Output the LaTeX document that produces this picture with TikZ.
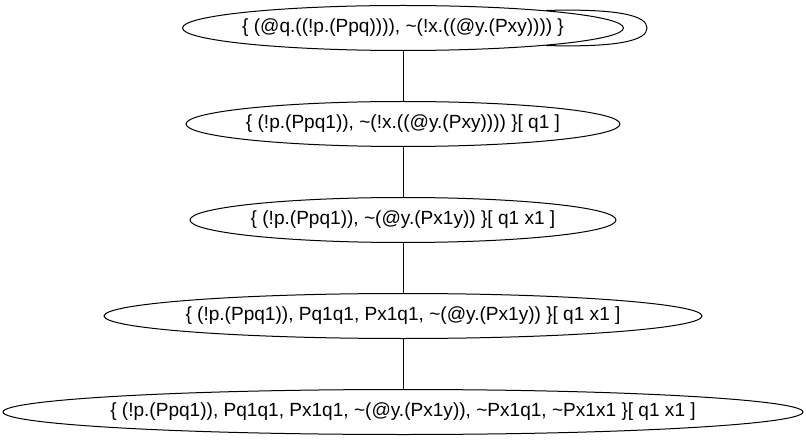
\documentclass[tikz,border=0pt]{standalone}
\usepackage{fontspec}
\setmainfont{Liberation Sans}
\usetikzlibrary{positioning,shapes.geometric}
\tikzset{every node/.style={align=center}}

\begin{document}
\begin{tikzpicture}[x=0.75pt,y=0.75pt,node distance=72pt,on grid,line width=0.75pt,
  goal/.style={ellipse,draw,inner sep=0pt,minimum height=33.75pt,font=\fontsize{14.3pt}{17pt}\selectfont}]
\useasboundingbox (0,0) rectangle (806,443);

\node[goal,minimum width=330.75pt] (R0) at (403,415) {\makebox[0pt]{\{ (@q.((!p.(Ppq)))), \textasciitilde(!x.((@y.(Pxy)))) \}}};
\node[goal,minimum width=325.5pt,below=of R0] (R1) {\makebox[0pt]{\{ (!p.(Ppq1)), \textasciitilde(!x.((@y.(Pxy)))) \}[ q1 ]}};
\node[goal,minimum width=319.5pt,below=of R1] (R2) {\makebox[0pt]{\{ (!p.(Ppq1)), \textasciitilde(@y.(Px1y)) \}[ q1 x1 ]}};
\node[goal,minimum width=448.5pt,below=of R2] (R3) {\makebox[0pt]{\{ (!p.(Ppq1)), Pq1q1, Px1q1, \textasciitilde(@y.(Px1y)) \}[ q1 x1 ]}};
\node[goal,minimum width=600pt,below=of R3] (R4) {\makebox[0pt]{\{ (!p.(Ppq1)), Pq1q1, Px1q1, \textasciitilde(@y.(Px1y)), \textasciitilde Px1q1, \textasciitilde Px1x1 \}[ q1 x1 ]}};

% self loop on the top node
\coordinate (loop) at (647,415);
\draw (R0.7.5) .. controls +(75,2) and +(0,12) .. (loop) .. controls +(0,-12) and +(75,-2) .. (R0.-7.5);

\draw (R0) -- (R1);
\draw (R1) -- (R2);
\draw (R2) -- (R3);
\draw (R3) -- (R4);

\end{tikzpicture}
\end{document}
